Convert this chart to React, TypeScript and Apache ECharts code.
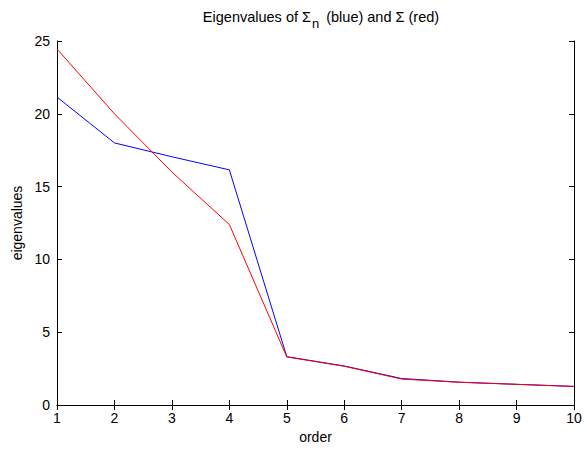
import React, { useEffect, useRef } from "react";
import * as echarts from "echarts";

const orders = [1, 2, 3, 4, 5, 6, 7, 8, 9, 10];
const sampleEig = [21.15, 18.0, 17.05, 16.15, 3.32, 2.68, 1.82, 1.57, 1.42, 1.28];
const trueEig = [24.45, 20.0, 16.0, 12.4, 3.3, 2.66, 1.78, 1.56, 1.42, 1.27];
const xTicks = [1, 2, 3, 4, 5, 6, 7, 8, 9, 10];
const yTicks = [0, 5, 10, 15, 20, 25];

const FONT = "Liberation Sans, Arial, sans-serif";

export default function App() {
  const ref = useRef<HTMLDivElement>(null);
  useEffect(() => {
    if (!ref.current) return;
    const chart = echarts.init(ref.current, null, { renderer: "svg" });
    const axisLine = { show: true, lineStyle: { color: "#000", width: 1 } };
    const axisTick = { show: true, inside: true, length: 5, lineStyle: { color: "#000" } };
    chart.setOption({
      animation: false,
      backgroundColor: "#fff",
      title: {
        text: "Eigenvalues of Σ{sub|n} (blue) and Σ (red)",
        left: 316,
        top: -1,
        textAlign: "center",
        textStyle: {
          fontFamily: FONT,
          fontSize: 14.5,
          fontWeight: "normal",
          color: "#000",
          rich: {
            sub: { fontFamily: FONT, fontSize: 13, color: "#000", padding: [13, 3, 0, 1] },
          },
        },
      },
      grid: { left: 57, right: 13, top: 41, bottom: 47, containLabel: false },
      xAxis: [
        {
          type: "value",
          min: xTicks[0],
          max: xTicks[xTicks.length - 1],
          interval: 1,
          name: "order",
          nameLocation: "middle",
          nameGap: 24,
          nameTextStyle: { fontFamily: FONT, fontSize: 14, color: "#000" },
          axisLine,
          axisTick,
          axisLabel: { fontFamily: FONT, fontSize: 14, color: "#000", margin: 6 },
          splitLine: { show: false },
        },
        {
          type: "value",
          position: "top",
          min: xTicks[0],
          max: xTicks[xTicks.length - 1],
          interval: 1,
          axisLine,
          axisTick,
          axisLabel: { show: false },
          splitLine: { show: false },
        },
      ],
      yAxis: [
        {
          type: "value",
          min: yTicks[0],
          max: yTicks[yTicks.length - 1],
          interval: 5,
          name: "eigenvalues",
          nameLocation: "middle",
          nameGap: 33,
          nameTextStyle: { fontFamily: FONT, fontSize: 14, color: "#000" },
          axisLine,
          axisTick,
          axisLabel: { fontFamily: FONT, fontSize: 14, color: "#000", margin: 7 },
          splitLine: { show: false },
        },
        {
          type: "value",
          position: "right",
          min: yTicks[0],
          max: yTicks[yTicks.length - 1],
          interval: 5,
          axisLine,
          axisTick,
          axisLabel: { show: false },
          splitLine: { show: false },
        },
      ],
      series: [
        {
          type: "line",
          data: orders.map((o, i) => [o, sampleEig[i]]),
          symbol: "none",
          lineStyle: { color: "#0000ff", width: 1 },
          itemStyle: { color: "#0000ff" },
        },
        {
          type: "line",
          data: orders.map((o, i) => [o, trueEig[i]]),
          symbol: "none",
          lineStyle: { color: "#ff0000", width: 1 },
          itemStyle: { color: "#ff0000" },
        },
      ],
    });
    return () => chart.dispose();
  }, []);
  return <div ref={ref} style={{ width: 587, height: 452, position: "absolute", left: 0, top: 0 }} />;
}
